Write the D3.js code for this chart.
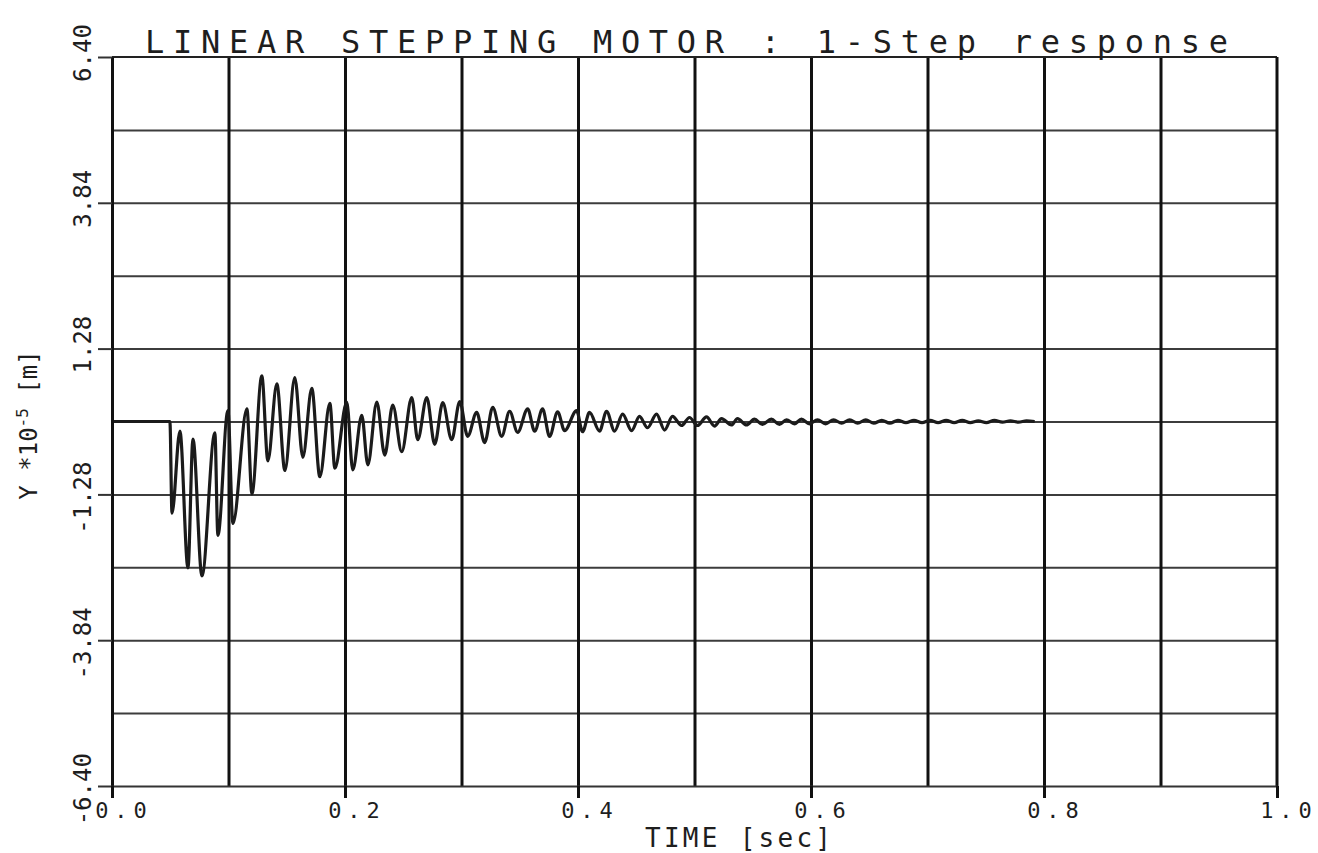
<!DOCTYPE html>
<html>
<head>
<meta charset="utf-8">
<script src="https://cdn.jsdelivr.net/npm/d3@7.9.0/dist/d3.min.js"></script>
<style>
  html, body { margin: 0; padding: 0; background: #fff; }
  svg { display: block; }
  text { font-family: "DejaVu Sans Mono", monospace; fill: #1e1e1e; }
</style>
</head>
<body>
<svg id="chart"></svg>
<script>
// Chart text
const TITLE = "LINEAR STEPPING MOTOR : 1-Step response";
const X_TITLE = "TIME [sec]";

// Axis ticks and grid
const xTickValues = [0, 0.2, 0.4, 0.6, 0.8, 1.0];
const xTickLabels = ["0.0", "0.2", "0.4", "0.6", "0.8", "1.0"];
const xGridValues = [0.1, 0.2, 0.3, 0.4, 0.5, 0.6, 0.7, 0.8, 0.9];
const yTickValues = [6.4, 3.84, 1.28, -1.28, -3.84, -6.4];
const yTickLabels = ["6.40", "3.84", "1.28", "-1.28", "-3.84", "-6.40"];
const yGridValues = [5.12, 3.84, 2.56, 1.28, 0, -1.28, -2.56, -3.84, -5.12];

// Step response: time [sec], Y [*1e-5 m]
const time = [
  0, 0.0497, 0.0515, 0.0583, 0.0652, 0.0695, 0.0772, 0.0883, 0.0909, 0.0995,
  0.1038, 0.1158, 0.1201, 0.1286, 0.1338, 0.1415, 0.1484, 0.1569, 0.1638, 0.1715,
  0.1784, 0.1870, 0.1913, 0.2015, 0.2067, 0.2144, 0.2196, 0.2273, 0.2341, 0.2410,
  0.2487, 0.2573, 0.2624, 0.2702, 0.2770, 0.2839, 0.2916, 0.2985, 0.3053, 0.3130,
  0.3199, 0.3268, 0.3345, 0.3413, 0.3482, 0.3568, 0.3628, 0.3696, 0.3756, 0.3825,
  0.3885, 0.3988, 0.4039, 0.4099, 0.4185, 0.4245, 0.4314, 0.4383, 0.4460, 0.4528,
  0.4597, 0.4674, 0.4743, 0.4811, 0.4889, 0.4957, 0.5026, 0.5103, 0.5172, 0.5232,
  0.5317, 0.5369, 0.5446, 0.5515, 0.5583, 0.5660, 0.5729, 0.5789, 0.5858, 0.5918,
  0.5987, 0.6056, 0.6125, 0.6194, 0.6263, 0.6332, 0.6401, 0.6470, 0.6539, 0.6608,
  0.6677, 0.6746, 0.6815, 0.6884, 0.6953, 0.7022, 0.7091, 0.7160, 0.7229, 0.7298,
  0.7367, 0.7436, 0.7505, 0.7574, 0.7643, 0.7712, 0.7781, 0.7850, 0.7920
];
const displacement = [
  0, 0, -1.61, -0.17, -2.57, -0.31, -2.71, -0.20, -2.00, 0.19,
  -1.79, 0.22, -1.27, 0.80, -0.69, 0.66, -0.86, 0.77, -0.63, 0.58,
  -0.97, 0.32, -0.82, 0.34, -0.85, 0.11, -0.76, 0.34, -0.59, 0.29,
  -0.53, 0.42, -0.32, 0.42, -0.40, 0.33, -0.32, 0.35, -0.26, 0.16,
  -0.37, 0.25, -0.26, 0.18, -0.19, 0.22, -0.17, 0.22, -0.26, 0.17,
  -0.16, 0.19, -0.18, 0.16, -0.17, 0.18, -0.17, 0.13, -0.16, 0.09,
  -0.11, 0.13, -0.15, 0.09, -0.07, 0.07, -0.07, 0.08, -0.08, 0.05,
  -0.06, 0.05, -0.06, 0.04, -0.05, 0.04, -0.05, 0.03, -0.04, 0.04,
  -0.04, 0.03, -0.04, 0.03, -0.03, 0.03, -0.03, 0.03, -0.03, 0.02,
  -0.03, 0.02, -0.02, 0.02, -0.02, 0.02, -0.02, 0.02, -0.02, 0.02,
  -0.02, 0.01, -0.02, 0.02, -0.01, 0.01, -0.01, 0.01, 0
];

const CFG = {
  WIDTH: 1318,
  HEIGHT: 853,
  LEFT: 112,
  RIGHT: 1277,
  TOP: 57,
  BOTTOM: 786
};

const svg = d3.select("#chart")
  .attr("width", CFG.WIDTH)
  .attr("height", CFG.HEIGHT);

svg.append("rect")
  .attr("width", CFG.WIDTH)
  .attr("height", CFG.HEIGHT)
  .attr("fill", "#fff");

const x = d3.scaleLinear().domain([0, 1]).range([CFG.LEFT, CFG.RIGHT]);
const y = d3.scaleLinear().domain([-6.4, 6.4]).range([CFG.BOTTOM, CFG.TOP]);

// horizontal grid (thinner, greyish)
const hGrid = svg.append("g")
  .attr("transform", `translate(${CFG.LEFT},0)`)
  .call(d3.axisLeft(y).tickValues(yGridValues).tickSize(-(CFG.RIGHT - CFG.LEFT)).tickFormat(""));
hGrid.select(".domain").remove();
hGrid.selectAll("line").attr("stroke", "#3c3c3c").attr("stroke-width", 2);

// vertical grid (heavy black)
const vGrid = svg.append("g")
  .attr("transform", `translate(0,${CFG.BOTTOM})`)
  .call(d3.axisBottom(x).tickValues(xGridValues).tickSize(-(CFG.BOTTOM - CFG.TOP)).tickFormat(""));
vGrid.select(".domain").remove();
vGrid.selectAll("line").attr("stroke", "#111").attr("stroke-width", 3);

// the response trace
const line = d3.line()
  .x((d, i) => x(time[i]))
  .y(d => y(d))
  .curve(d3.curveMonotoneX);

svg.append("path")
  .datum(displacement)
  .attr("d", line)
  .attr("fill", "none")
  .attr("stroke", "#1b1b1b")
  .attr("stroke-width", 3.2)
  .attr("stroke-linejoin", "round");

// frame: top and right
svg.append("line")
  .attr("x1", x(0)).attr("x2", x(1))
  .attr("y1", y(6.4)).attr("y2", y(6.4))
  .attr("stroke", "#222").attr("stroke-width", 2);
svg.append("line")
  .attr("x1", x(1)).attr("x2", x(1))
  .attr("y1", y(6.4)).attr("y2", y(-6.4))
  .attr("stroke", "#111").attr("stroke-width", 3);

// left axis
const yAxis = svg.append("g")
  .attr("transform", `translate(${CFG.LEFT},0)`)
  .call(d3.axisLeft(y).tickValues(yTickValues).tickSize(14).tickSizeOuter(0).tickFormat(""));
yAxis.select(".domain").attr("stroke", "#111").attr("stroke-width", 3);
yAxis.selectAll("line").attr("stroke", "#333").attr("stroke-width", 2);

// bottom axis
const xAxis = svg.append("g")
  .attr("transform", `translate(0,${CFG.BOTTOM})`)
  .call(d3.axisBottom(x).tickValues(xTickValues).tickSize(12).tickSizeOuter(0).tickFormat(""));
xAxis.select(".domain").attr("stroke", "#333").attr("stroke-width", 2);
xAxis.selectAll("line").attr("stroke", "#111").attr("stroke-width", 3);

// y tick labels, rotated, decimal point sitting on the tick
yTickValues.forEach((v, i) => {
  const parts = yTickLabels[i].split(".");
  const g = svg.append("g")
    .attr("transform", `translate(91,${y(v)}) rotate(-90)`)
    .attr("font-size", 24);
  g.append("text")
    .attr("x", 4)
    .attr("text-anchor", "end")
    .text(parts[0] + ".");
  g.append("text")
    .attr("x", 4)
    .attr("text-anchor", "start")
    .text(parts[1]);
});

// x tick labels
svg.append("g")
  .attr("font-size", 22)
  .selectAll("text")
  .data(xTickValues)
  .join("text")
  .attr("x", d => x(d) + 12)
  .attr("y", 818)
  .attr("text-anchor", "middle")
  .attr("letter-spacing", 6)
  .text((d, i) => xTickLabels[i]);

// titles
svg.append("text")
  .attr("x", 145)
  .attr("y", 53)
  .attr("font-size", 32)
  .attr("textLength", 1083)
  .attr("lengthAdjust", "spacing")
  .text(TITLE);

svg.append("text")
  .attr("x", 645)
  .attr("y", 847)
  .attr("font-size", 26)
  .attr("textLength", 186)
  .attr("lengthAdjust", "spacing")
  .text(X_TITLE);

const yTitle = svg.append("text")
  .attr("transform", "translate(37,425) rotate(-90)")
  .attr("text-anchor", "middle")
  .attr("font-size", 24);
yTitle.append("tspan").text("Y *10");
yTitle.append("tspan").attr("dy", -9).attr("font-size", 16).text("-5");
yTitle.append("tspan").attr("dy", 9).text(" [m]");
</script>
</body>
</html>
